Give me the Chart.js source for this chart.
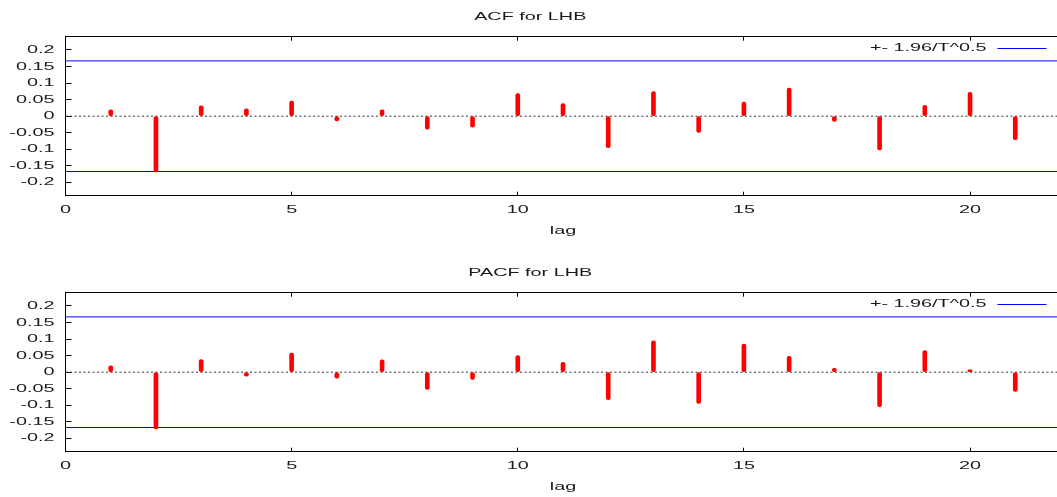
<!DOCTYPE html>
<html lang="en">
<head>
<meta charset="UTF-8">
<title>ACF / PACF for LHB</title>
<script src="https://cdn.jsdelivr.net/npm/chart.js"></script>
<style>
  html, body { margin: 0; padding: 0; background: #fff; overflow: hidden; }
  .wrap { position: absolute; left: 0; width: 1062px; height: 250px; }
  #acfWrap { top: 0; }
  #pacfWrap { top: 256px; }
</style>
</head>
<body>
<div class="wrap" id="acfWrap"><canvas id="acfChart"></canvas></div>
<div class="wrap" id="pacfWrap"><canvas id="pacfChart"></canvas></div>
<script>
// data
const lags = [1, 2, 3, 4, 5, 6, 7, 8, 9, 10, 11, 12, 13, 14, 15, 16, 17, 18, 19, 20, 21];
const acfValues = [0.019, -0.168, 0.031, 0.022, 0.046, -0.014, 0.019, -0.039, -0.033, 0.068,
                   0.038, -0.095, 0.074, -0.049, 0.043, 0.085, -0.016, -0.102, 0.033, 0.072, -0.071];
const pacfValues = [0.019, -0.171, 0.038, -0.012, 0.058, -0.018, 0.037, -0.052, -0.022, 0.050,
                    0.030, -0.083, 0.095, -0.094, 0.085, 0.048, 0.012, -0.104, 0.065, 0.007, -0.058];
const confBand = 0.167;          // 1.96 / sqrt(T)
const xRange = [0, 22];
const xTicks = [0, 5, 10, 15, 20];
const yTicks = [-0.2, -0.15, -0.1, -0.05, 0, 0.05, 0.1, 0.15, 0.2];
const legendLabel = '+- 1.96/T^0.5';
const xLabel = 'lag';

const TEXT_STRETCH = 1.8;   // the gnuplot text is drawn wide
const BLUE = '#0000ff';
const RED = '#ff0000';

Chart.defaults.font.family = '"Liberation Sans", Arial, sans-serif';
Chart.defaults.font.size = 11;
Chart.defaults.color = '#1a1a1a';

// widen every text draw around its anchor point
function stretchText(canvas) {
    const ctx = canvas.getContext('2d');
    const fill = ctx.fillText;
    ctx.fillText = function (text, x, y) {
        this.save();
        this.translate(x, y);
        this.scale(TEXT_STRETCH, 1);
        fill.call(this, text, 0, 0);
        this.restore();
    };
}

// legend sits inside the plot, top right: text then line sample
const innerLegend = {
    id: 'innerLegend',
    afterDatasetsDraw(chart) {
        const { ctx, chartArea } = chart;
        const y = chartArea.top + 11;
        const x2 = chartArea.right - 14;
        const x1 = x2 - 49;
        ctx.save();
        ctx.strokeStyle = BLUE;
        ctx.lineWidth = 1;
        ctx.beginPath();
        ctx.moveTo(x1, Math.round(y) + 0.5);
        ctx.lineTo(x2, Math.round(y) + 0.5);
        ctx.stroke();
        ctx.font = '11px "Liberation Sans", Arial, sans-serif';
        ctx.fillStyle = '#1a1a1a';
        ctx.textAlign = 'right';
        ctx.textBaseline = 'middle';
        ctx.fillText(legendLabel, x1 - 11, y);
        ctx.restore();
    }
};

function makeChart(canvasId, title, values) {
    const canvas = document.getElementById(canvasId);
    stretchText(canvas);

    const spikes = lags.map((lag, i) => ({ x: lag, y: values[i] }));
    const flat = v => xRange.map(x => ({ x: x, y: v }));
    const band = {
        type: 'line',
        borderColor: BLUE,
        backgroundColor: BLUE,
        borderWidth: 1,
        pointRadius: 0,
        fill: false
    };

    return new Chart(canvas, {
        type: 'bar',
        data: {
            datasets: [
                {
                    type: 'bar',
                    data: spikes,
                    backgroundColor: RED,
                    barThickness: 4,
                    borderRadius: 2,
                    borderSkipped: false,
                    grouped: false
                },
                Object.assign({ data: flat(confBand) }, band),
                Object.assign({ data: flat(-confBand) }, band),
                {
                    type: 'line',
                    data: flat(0),
                    borderColor: '#333',
                    borderWidth: 1,
                    borderDash: [2, 2.5],
                    pointRadius: 0
                }
            ]
        },
        options: {
            responsive: true,
            maintainAspectRatio: false,
            animation: false,
            events: [],
            layout: { padding: { left: 0, right: 1.5, top: 0, bottom: 0 } },
            plugins: {
                legend: { display: false },
                tooltip: { enabled: false },
                title: {
                    display: true,
                    text: title,
                    color: '#1a1a1a',
                    font: { size: 11, weight: 'normal' },
                    padding: { top: 10, bottom: 13.5 }
                }
            },
            scales: {
                x: {
                    type: 'linear',
                    position: 'bottom',
                    offset: false,
                    min: xRange[0],
                    max: xRange[1],
                    afterBuildTicks: s => { s.ticks = xTicks.map(v => ({ value: v })); },
                    afterFit: s => { s.height = 54.3; },
                    grid: { drawOnChartArea: false, offset: false, tickLength: -4, color: '#000' },
                    border: { color: '#000', width: 1 },
                    ticks: { padding: 12, maxRotation: 0, color: '#1a1a1a' },
                    title: {
                        display: true,
                        text: xLabel,
                        color: '#1a1a1a',
                        font: { size: 11 },
                        padding: { top: 0, bottom: 12.5 }
                    }
                },
                xTop: {
                    type: 'linear',
                    position: 'top',
                    offset: false,
                    min: xRange[0],
                    max: xRange[1],
                    afterBuildTicks: s => { s.ticks = xTicks.map(v => ({ value: v })); },
                    afterFit: s => { s.height = 0; },
                    grid: { drawOnChartArea: false, offset: false, tickLength: -4, color: '#000' },
                    border: { color: '#000', width: 1 },
                    ticks: { display: false }
                },
                y: {
                    type: 'linear',
                    min: -0.24,
                    max: 0.24,
                    afterBuildTicks: s => { s.ticks = yTicks.map(v => ({ value: v })); },
                    afterFit: s => { s.width = 65.5; },
                    grid: { drawOnChartArea: false, tickLength: -6, color: '#000' },
                    border: { color: '#000', width: 1 },
                    ticks: {
                        padding: 17,
                        color: '#1a1a1a',
                        callback: v => String(+v.toFixed(2))
                    }
                }
            }
        },
        plugins: [innerLegend]
    });
}

makeChart('acfChart', 'ACF for LHB', acfValues);
makeChart('pacfChart', 'PACF for LHB', pacfValues);
</script>
</body>
</html>
